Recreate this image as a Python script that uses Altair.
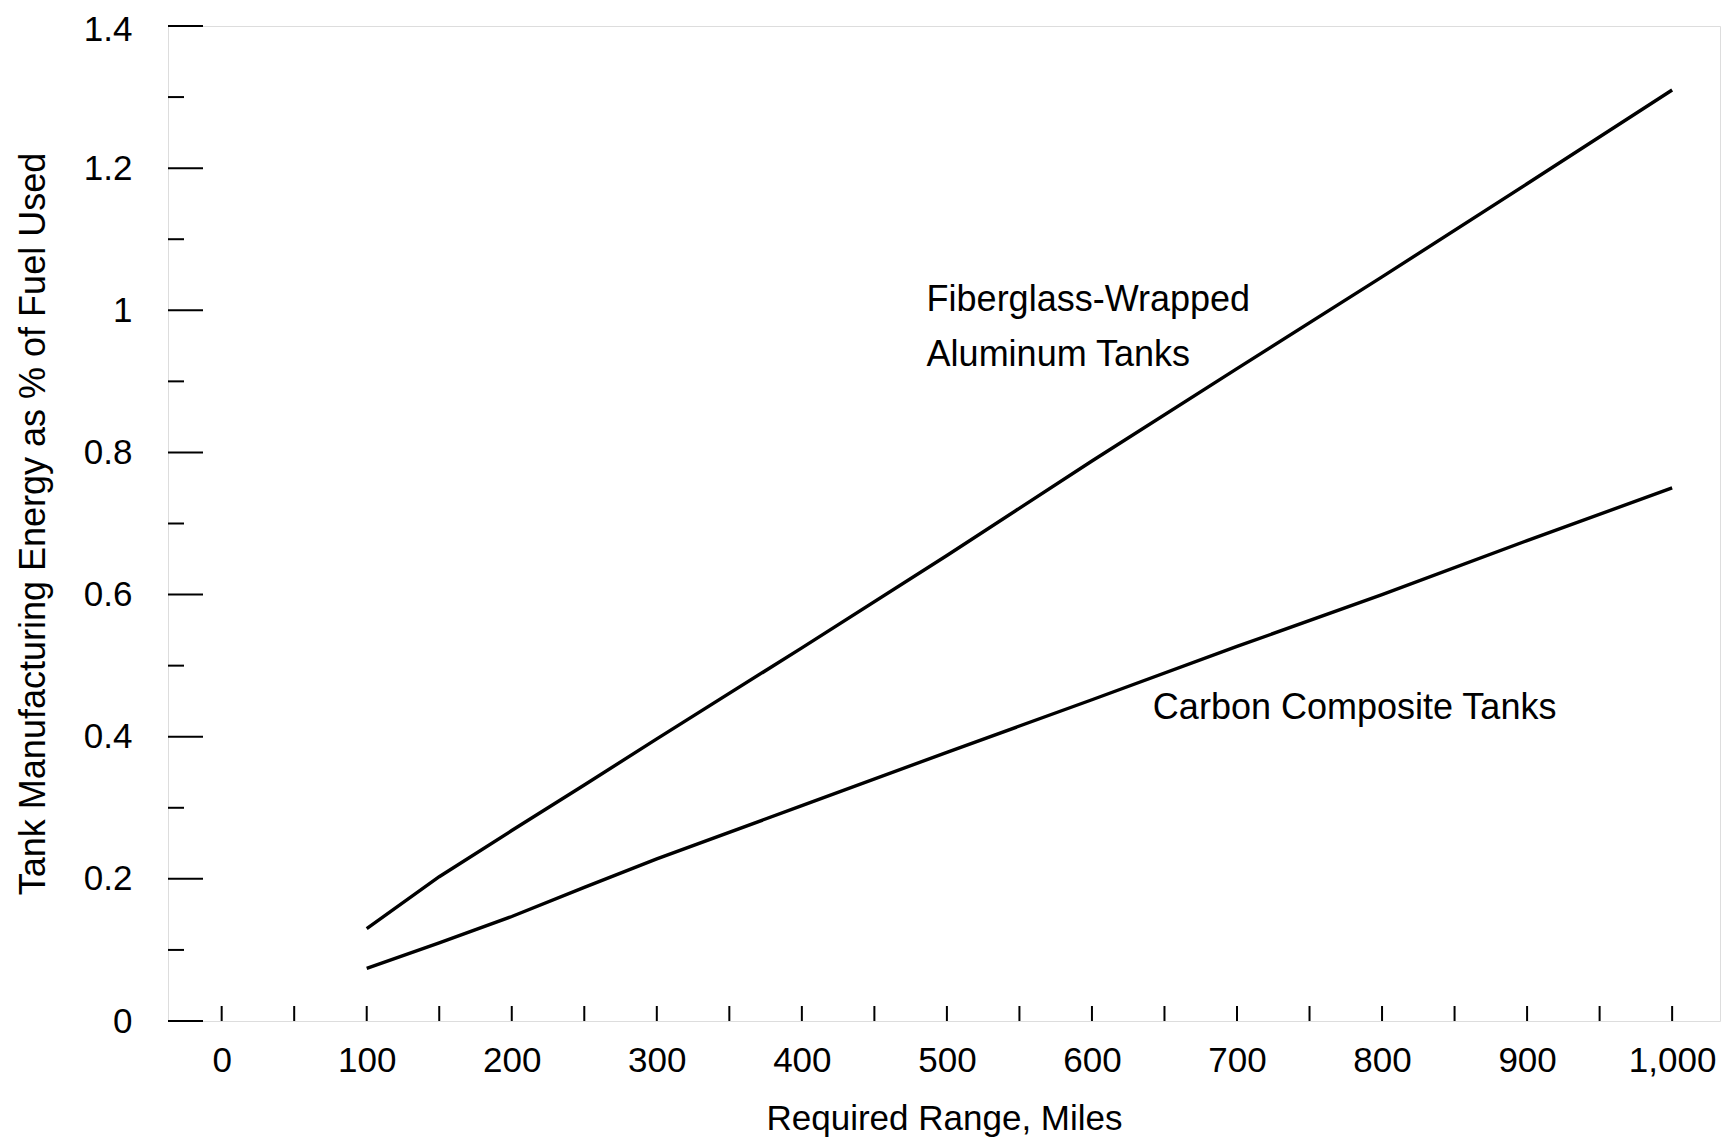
import altair as alt
import pandas as pd

# ---- data ----
miles = [100, 150, 200, 250, 300, 400, 500, 600, 700, 800, 900, 1000]
fiberglass = [0.13, 0.203, 0.268, 0.332, 0.397, 0.525, 0.655, 0.788, 0.918, 1.047, 1.178, 1.31]
carbon = [0.074, 0.11, 0.147, 0.188, 0.228, 0.303, 0.378, 0.452, 0.527, 0.600, 0.676, 0.75]

x_ticks = list(range(0, 1001, 50))
x_labels = list(range(0, 1001, 100))
y_major = [0, 0.2, 0.4, 0.6, 0.8, 1.0, 1.2, 1.4]
y_minor = [0.1, 0.3, 0.5, 0.7, 0.9, 1.1, 1.3]

label_text = ["Fiberglass-Wrapped", "Aluminum Tanks", "Carbon Composite Tanks"]
label_x = [486, 486, 642]
label_y = [1.014, 0.937, 0.44]

W, H = 1552, 995
FONT = "Liberation Sans"

lines_df = pd.DataFrame({
    "miles": miles * 2,
    "value": fiberglass + carbon,
    "series": ["Fiberglass-Wrapped Aluminum Tanks"] * len(miles) + ["Carbon Composite Tanks"] * len(miles),
})
labels_df = pd.DataFrame({"x": label_x, "y": label_y, "text": label_text})
xt_df = pd.DataFrame({"x": x_ticks, "y": [0] * len(x_ticks)})
ymaj_df = pd.DataFrame({"y": y_major})
ymin_df = pd.DataFrame({"y": y_minor})

xscale = alt.Scale(domain=[-37, 1033], nice=False, zero=False)
yscale = alt.Scale(domain=[0, 1.4], nice=False)

x_axis = alt.Axis(
    values=x_labels, format=",d", ticks=False, domain=False, grid=False,
    labelPadding=22, labelFontSize=35, labelFont=FONT, labelColor="black",
    title="Required Range, Miles", titleFontSize=35, titleFont=FONT,
    titleFontWeight="normal", titleColor="black", titleY=97, titleBaseline="middle",
)
y_axis = alt.Axis(
    values=y_major, format="~g", ticks=False, domain=False, grid=False,
    labelPadding=36, labelFontSize=35, labelFont=FONT, labelColor="black",
    labelOffset={"condition": {"test": "datum.value >= 1.39", "value": 3}, "value": 0},
    title="Tank Manufacturing Energy as % of Fuel Used", titleFontSize=36,
    titleFont=FONT, titleFontWeight="normal", titleColor="black",
    titleX=-135, titleY=H / 2, titleAngle=270, titleBaseline="middle",
)

lines = alt.Chart(lines_df).mark_line(color="black", strokeWidth=3.4).encode(
    x=alt.X("miles:Q", scale=xscale, axis=x_axis),
    y=alt.Y("value:Q", scale=yscale, axis=y_axis),
    detail="series:N",
)

xticks = alt.Chart(xt_df).mark_rule(color="black", strokeWidth=2).encode(
    x=alt.X("x:Q", scale=xscale),
    y=alt.Y("y:Q", scale=yscale),
    y2=alt.value(H - 15),
)
ymaj = alt.Chart(ymaj_df).mark_rule(color="black", strokeWidth=2).encode(
    y=alt.Y("y:Q", scale=yscale),
    x=alt.value(0),
    x2=alt.value(35),
)
ymin = alt.Chart(ymin_df).mark_rule(color="black", strokeWidth=2).encode(
    y=alt.Y("y:Q", scale=yscale),
    x=alt.value(0),
    x2=alt.value(16),
)

texts = alt.Chart(labels_df).mark_text(
    align="left", baseline="middle", fontSize=36, font=FONT, color="black"
).encode(
    x=alt.X("x:Q", scale=xscale),
    y=alt.Y("y:Q", scale=yscale),
    text="text:N",
)

chart = alt.layer(lines, xticks, ymaj, ymin, texts).properties(
    width=W, height=H,
    autosize=alt.AutoSizeParams(type="none"),
    padding={"left": 160, "top": 18, "right": 3, "bottom": 119},
).configure_view(
    stroke="black", strokeWidth=2.5
).configure(background="white")

chart.save("out.html", embed_options={"renderer": "svg", "actions": False})
